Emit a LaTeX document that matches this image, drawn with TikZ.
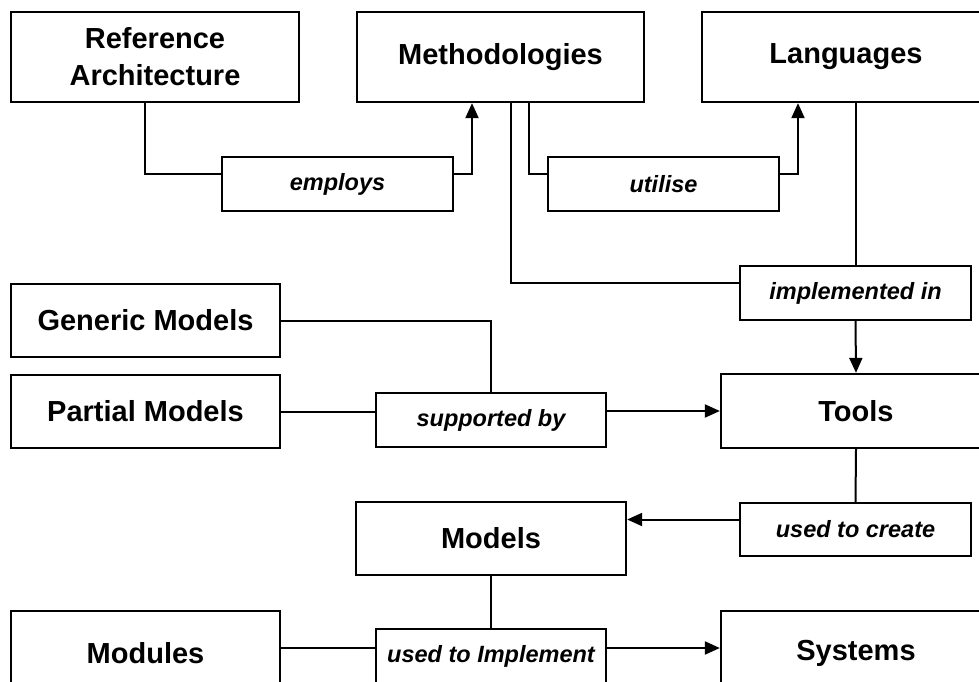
\documentclass[tikz,border=0pt]{standalone}
\usepackage{fontspec}
\setmainfont{Liberation Sans}
\usetikzlibrary{arrows.meta}

\begin{document}
\begin{tikzpicture}[x=1pt, y=-1pt, line width=2pt, >={Triangle[length=15pt,width=13pt]},
    block/.style={draw, line width=2.3pt, align=center, inner sep=0pt,
        font=\fontsize{29}{37}\selectfont\bfseries},
    verb/.style={draw, line width=2.3pt, inner sep=0pt, minimum width=231pt, minimum height=54pt,
        font=\fontsize{23.5}{28}\selectfont\bfseries\itshape}]

        \useasboundingbox (0,0) rectangle (979,682);
        \clip (0,0) rectangle (979,682);

        % top row
        \node[block, minimum width=288pt, minimum height=90pt] (refarch) at (155, 57) {Reference\\Architecture};
        \node[block, minimum width=287pt, minimum height=90pt] (meth) at (500.5, 57) {Methodologies};
        \node[block, minimum width=288pt, minimum height=90pt] (lang) at (846, 57) {Languages};

        \node[verb] (employs) at (337.5, 184) {employs};
        \node[verb] (utilise) at (663.5, 184) {utilise};
        \node[verb] (implin) at (855.5, 293) {implemented in};

        \draw ([xshift=-10pt]refarch.south) |- ([yshift=10pt]employs.west);
        \draw[->] ([yshift=10pt]employs.east) -| ([xshift=-28.5pt]meth.south);
        \draw ([xshift=28.5pt]meth.south) |- ([yshift=10pt]utilise.west);
        \draw[->] ([yshift=10pt]utilise.east) -| ([xshift=-48pt]lang.south);
        \draw ([xshift=10.5pt]meth.south) |- ([yshift=10pt]implin.west);
        \draw (implin.north |- lang.south) -- (implin.north);

        % middle part
        \node[block, minimum width=269pt, minimum height=73pt] (generic) at (145.5, 320.5) {Generic Models};
        \node[block, minimum width=269pt, minimum height=73pt] (partial) at (145.5, 411.5) {Partial Models};
        \node[verb, minimum width=230pt] (suppby) at (491, 420) {supported by};
        \node[block, minimum width=270pt, minimum height=74pt] (tools) at (856, 411) {Tools};

        \draw[->] (implin.south) -- (tools.north);
        \draw (generic.east) -| (suppby.north);
        \draw (partial.east) -- (partial.east -| suppby.west);
        \draw[->] (suppby.east |- tools.west) -- (tools.west);

        % bottom part
        \node[verb, minimum height=53pt] (usedcreate) at (855.5, 529.5) {used to create};
        \node[block, minimum width=270pt, minimum height=73pt] (models) at (491, 538.5) {Models};
        \node[verb, minimum width=230pt] (usedimpl) at (491, 656) {used to Implement};
        \node[block, minimum width=269pt, minimum height=84pt] (modules) at (145.5, 653) {Modules};
        \node[block, minimum width=270pt, minimum height=84pt] (systems) at (856, 653) {Systems};

        \draw (tools.south) -- (usedcreate.north);
        \draw[->] ([yshift=10pt]usedcreate.west) -- ([yshift=10pt]usedcreate.west -| models.east);
        \draw (models.south) -- (usedimpl.north);
        \draw ([yshift=5pt]modules.east) -- ([yshift=5pt]modules.east -| usedimpl.west);
        \draw[->] ([yshift=8pt]usedimpl.east) -- ([yshift=8pt]usedimpl.east -| systems.west);
    \end{tikzpicture}
\end{document}
